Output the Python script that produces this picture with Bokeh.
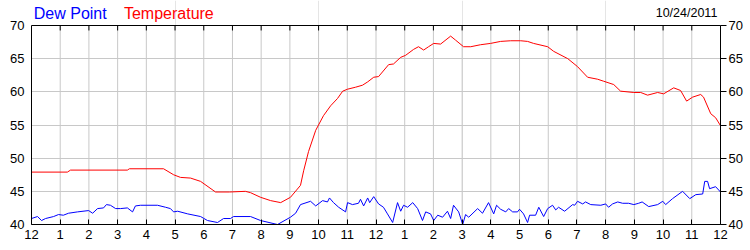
from bokeh.plotting import figure
from bokeh.models import Range1d, LinearAxis, FixedTicker, Grid
from bokeh.core.properties import value
from bokeh.embed import file_html
from bokeh.resources import INLINE

# Time in hours after midnight, 10/24/2011
temp_hours = [0.00, 1.25, 1.36, 3.34, 3.41, 4.60, 4.95, 5.19, 5.54, 5.89, 6.41, 6.90, 7.45,
              7.63, 7.98, 8.33, 8.68, 9.02, 9.37, 9.48, 9.65, 9.90, 10.17, 10.42, 10.66,
              10.84, 11.01, 11.29, 11.53, 11.71, 11.92, 12.09, 12.44, 12.61, 12.86, 13.03,
              13.31, 13.48, 13.66, 13.83, 14.01, 14.25, 14.60, 14.77, 15.05, 15.30, 15.64,
              15.99, 16.34, 16.69, 17.04, 17.28, 17.49, 17.98, 18.19, 18.68, 19.02, 19.37,
              19.72, 19.93, 20.28, 20.52, 20.98, 21.22, 21.46, 21.81, 22.02, 22.37, 22.61,
              22.82, 23.03, 23.31, 23.41, 23.66, 23.83, 24.00]
temperature = [47.9, 47.9, 48.2, 48.2, 48.4, 48.4, 47.5, 47.1, 47.0, 46.5, 44.9, 44.9, 45.0,
               44.8, 44.1, 43.6, 43.3, 44.1, 45.9, 48.1, 51.0, 54.2, 56.4, 57.9, 59.0,
               60.1, 60.4, 60.7, 61.0, 61.5, 62.2, 62.3, 64.1, 64.2, 65.2, 65.5,
               66.4, 66.8, 66.3, 66.8, 67.3, 67.2, 68.4, 67.8, 66.8, 66.8, 67.1,
               67.3, 67.6, 67.7, 67.7, 67.6, 67.3, 66.8, 66.1, 65.0, 63.8, 62.2,
               61.9, 61.6, 61.1, 60.1, 59.9, 59.9, 59.5, 59.9, 59.7, 60.6, 60.2,
               58.6, 59.2, 59.6, 59.2, 56.7, 56.1, 54.9]

dew_hours = [0.00, 0.21, 0.35, 0.49, 0.77, 0.94, 1.11, 1.29, 1.60, 1.99, 2.13, 2.30, 2.51,
             2.61, 2.75, 2.93, 3.10, 3.34, 3.52, 3.62, 3.80, 4.39, 4.67, 4.84, 4.95, 5.09,
             5.44, 5.89, 6.13, 6.48, 6.69, 6.93, 7.04, 7.63, 7.98, 8.57, 9.02, 9.20, 9.37,
             9.72, 9.90, 10.14, 10.31, 10.38, 10.52, 10.70, 10.94, 11.01, 11.18, 11.39,
             11.46, 11.57, 11.71, 11.78, 11.92, 12.09, 12.26, 12.40, 12.58, 12.75, 12.86,
             12.96, 13.10, 13.28, 13.45, 13.62, 13.73, 13.90, 14.01, 14.15, 14.32, 14.49,
             14.60, 14.70, 14.88, 15.02, 15.12, 15.23, 15.54, 15.71, 15.92, 16.10, 16.20,
             16.34, 16.52, 16.62, 16.76, 16.93, 17.00, 17.14, 17.28, 17.35, 17.56, 17.67,
             17.84, 17.98, 18.15, 18.26, 18.36, 18.57, 18.85, 18.92, 19.02, 19.20, 19.30,
             19.48, 19.83, 20.00, 20.10, 20.24, 20.42, 20.59, 20.80, 20.98, 21.15, 21.27,
             21.50, 21.81, 21.99, 22.09, 22.33, 22.68, 22.93, 23.14, 23.38, 23.45, 23.55,
             23.62, 23.83, 24.00]
dew_point = [40.9, 41.2, 40.6, 40.9, 41.2, 41.5, 41.4, 41.7, 41.9, 42.1, 41.7, 42.4, 42.5,
             43.0, 42.9, 42.4, 42.4, 42.5, 41.9, 42.8, 42.9, 42.9, 42.6, 42.4, 41.9, 42.0,
             41.6, 41.2, 40.6, 40.3, 40.9, 40.9, 41.2, 41.2, 40.6, 40.0, 41.1, 41.7, 43.0,
             43.5, 42.8, 43.6, 43.4, 44.0, 43.3, 42.6, 41.9, 43.3, 43.0, 43.2,
             43.8, 42.8, 44.0, 43.3, 44.2, 43.1, 42.6, 41.6, 40.3, 43.3, 42.0,
             42.9, 42.6, 43.3, 42.4, 40.6, 41.9, 41.6, 40.6, 41.4, 41.1, 42.0,
             40.9, 42.9, 41.9, 40.0, 41.5, 41.1, 42.4, 41.7, 43.3, 41.6, 42.9,
             42.3, 41.9, 42.4, 41.9, 41.9, 42.3, 41.6, 40.3, 41.4, 41.4, 42.6,
             41.2, 42.4, 42.9, 42.2, 42.6, 42.0, 43.0, 42.9, 43.5, 43.1, 43.4,
             43.0, 42.9, 43.1, 42.6, 43.1, 43.4, 43.2, 43.2, 43.0, 43.2, 43.4,
             42.7, 43.0, 43.5, 43.0, 43.9, 45.0, 43.9, 44.5, 44.6, 46.5, 46.5,
             45.4, 45.7, 44.9]

hour_ticks = list(range(0, 25))
hour_labels = ["12", "1", "2", "3", "4", "5", "6", "7", "8", "9", "10", "11",
               "12", "1", "2", "3", "4", "5", "6", "7", "8", "9", "10", "11", "12"]
y_ticks = [40, 45, 50, 55, 60, 65, 70]
series_names = ["Dew Point", "Temperature"]
date_text = "10/24/2011"

FONT = "Liberation Sans"
BLUE = "#0000ff"
RED = "#ff0000"
GRID = "#c8c8c8"

Y_MIN, Y_MAX = 40, 70
# the frame reaches the top of the canvas; the band above 70 holds the header texts
Y_TOP = Y_MAX + 25 * (Y_MAX - Y_MIN) / 199.0

p = figure(width=750, height=250, output_backend="svg", toolbar_location=None,
           x_range=Range1d(0, 24), y_range=Range1d(Y_MIN, Y_TOP),
           min_border_left=31, min_border_right=30, min_border_top=0, min_border_bottom=26,
           x_axis_location=None, y_axis_location=None)
p.background_fill_color = "white"
p.border_fill_color = "white"
p.outline_line_color = None

xt = FixedTicker(ticks=hour_ticks)
yt = FixedTicker(ticks=y_ticks)

bx = LinearAxis(ticker=xt)
bx.major_label_overrides = {t: l for t, l in zip(hour_ticks, hour_labels)}
bx.major_tick_in = 5
bx.major_tick_out = 0
bx.minor_tick_line_color = None
bx.major_label_standoff = 5
bx.major_label_text_font = FONT
bx.major_label_text_font_size = "13px"
bx.major_label_text_color = "black"
bx.axis_line_color = "black"
p.add_layout(bx, "below")

ly = LinearAxis(ticker=yt, bounds=(Y_MIN, Y_MAX))
ly.major_tick_in = 0
ly.major_tick_out = 0
ly.minor_tick_line_color = None
ly.major_label_standoff = 7
ly.major_label_text_font = FONT
ly.major_label_text_font_size = "13px"
ly.major_label_text_color = "black"
ly.axis_line_color = "black"
p.add_layout(ly, "left")

ry = LinearAxis(ticker=yt, bounds=(Y_MIN, Y_MAX))
ry.major_tick_in = 0
ry.major_tick_out = 6
ry.minor_tick_line_color = None
ry.major_label_standoff = 2
ry.major_label_text_font = FONT
ry.major_label_text_font_size = "13px"
ry.major_label_text_color = "black"
ry.axis_line_color = "black"
p.add_layout(ry, "right")

# horizontal grid lines (span the full width)
p.add_layout(Grid(dimension=1, ticker=yt, grid_line_color=GRID, grid_line_width=1))
# vertical grid lines, limited to the 40..70 band
p.segment(x0=hour_ticks, y0=[Y_MIN] * len(hour_ticks), x1=hour_ticks,
          y1=[Y_MAX] * len(hour_ticks), line_color=GRID, line_width=1)

# top edge of the frame and its inward tick marks
p.segment(x0=[0], y0=[Y_MAX], x1=[24], y1=[Y_MAX], line_color="black", line_width=1)
p.segment(x0=hour_ticks, y0=[Y_MAX] * len(hour_ticks), x1=hour_ticks,
          y1=[Y_MAX - 0.75] * len(hour_ticks), line_color="black", line_width=1)

p.line(dew_hours, dew_point, line_color=BLUE, line_width=1)
p.line(temp_hours, temperature, line_color=RED, line_width=1)

# header texts
p.text(x=[0.08], y=[71.82], text=[series_names[0]], text_color=BLUE,
       text_font=value(FONT), text_font_size=value("16px"), text_baseline="alphabetic")
p.text(x=[3.22], y=[71.82], text=[series_names[1]], text_color=RED,
       text_font=value(FONT), text_font_size=value("16px"), text_baseline="alphabetic")
p.text(x=[23.89], y=[71.9], text=[date_text], text_color="black",
       text_font=value(FONT), text_font_size=value("12.5px"), text_baseline="alphabetic",
       text_align="right")

open("out.html", "w").write(file_html(p, INLINE))
